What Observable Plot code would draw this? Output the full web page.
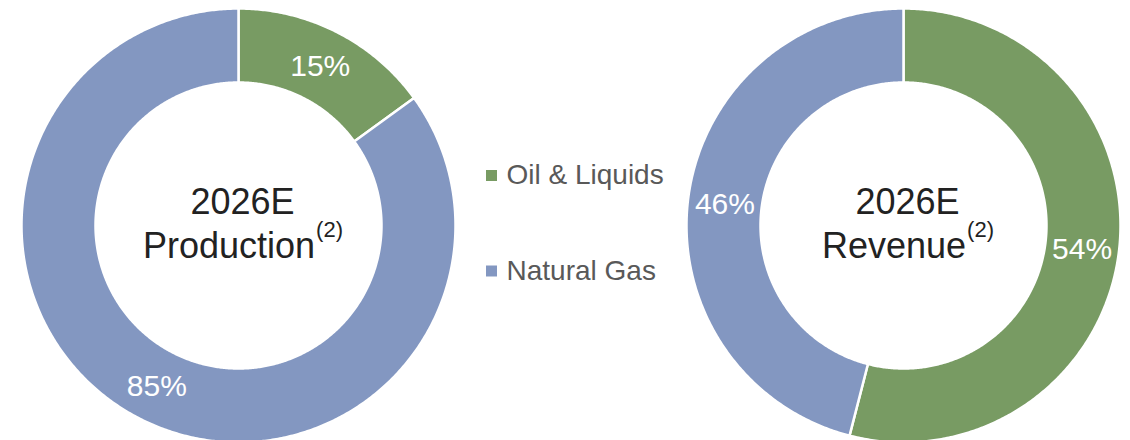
<!DOCTYPE html>
<html>
<head>
<meta charset="utf-8">
<script src="https://cdn.jsdelivr.net/npm/d3@7"></script>
<script src="https://cdn.jsdelivr.net/npm/@observablehq/plot@0.6"></script>
<style>
  html, body { margin: 0; padding: 0; background: #ffffff; }
</style>
</head>
<body>
<div id="chart"></div>
<script>
// ---- data ----
const categories = ["Oil & Liquids", "Natural Gas"];
const colors = ["#789B63", "#8397C1"];
const donutNames = ["Production", "Revenue"];
const productionValues = [15, 85];   // % share, clockwise from 12 o'clock
const revenueValues = [54, 46];
const titleYear = "2026E";
const footnoteMark = "(2)";

// ---- layout ----
const W = 1130, H = 440;
const centersX = [238, 903];
const cy = 225;
const R = 217, r = 143;
const FONT = '"Liberation Sans", Arial, Helvetica, sans-serif';
const valuesByDonut = [productionValues, revenueValues];

// slice polygons built from the values
const slicePts = [];
const pctLabels = [];
valuesByDonut.forEach((vals, d) => {
  const cx = centersX[d];
  const total = d3.sum(vals);
  let cum = 0;
  vals.forEach((v, i) => {
    const a0 = cum / total * 2 * Math.PI;
    const a1 = (cum + v) / total * 2 * Math.PI;
    cum += v;
    const n = Math.max(2, Math.ceil((a1 - a0) / (Math.PI / 360)));
    const key = d + "-" + i;
    for (let k = 0; k <= n; k++) {
      const a = a0 + (a1 - a0) * k / n;
      slicePts.push({key, cat: categories[i], x: cx + R * Math.sin(a), y: cy - R * Math.cos(a)});
    }
    for (let k = n; k >= 0; k--) {
      const a = a0 + (a1 - a0) * k / n;
      slicePts.push({key, cat: categories[i], x: cx + r * Math.sin(a), y: cy - r * Math.cos(a)});
    }
    const mid = (a0 + a1) / 2, rm = (R + r) / 2;
    pctLabels.push({x: cx + rm * Math.sin(mid), y: cy - rm * Math.cos(mid) + 1, text: v + "%"});
  });
});

// centre titles
const ctx = document.createElement("canvas").getContext("2d");
function textWidth(t, size) { ctx.font = size + "px " + FONT; return ctx.measureText(t).width; }
const titleTop = [], titleName = [], titleSup = [];
donutNames.forEach((name, d) => {
  const cx = centersX[d] + 4;
  titleTop.push({x: cx, y: cy - 23.5, text: titleYear});
  const w1 = textWidth(name, 36), w2 = textWidth(footnoteMark, 22);
  const start = cx - (w1 + w2) / 2;
  titleName.push({x: start, y: cy + 20.5, text: name});
  titleSup.push({x: start + w1 + 1, y: cy + 4, text: footnoteMark});
});

// legend
const legend = categories.map((c, i) => ({cat: c, x: 491, tx: 506, y: 175 + i * 95.5}));

const chart = Plot.plot({
  width: W,
  height: H,
  margin: 0,
  x: {domain: [0, W], range: [0, W], axis: null},
  y: {domain: [0, H], range: [0, H], axis: null},
  color: {domain: categories, range: colors},
  style: {fontFamily: FONT, background: "#ffffff", overflow: "visible"},
  marks: [
    Plot.line(slicePts, {x: "x", y: "y", z: "key", fill: "cat", stroke: "#ffffff", strokeWidth: 2.5, curve: "linear-closed"}),
    Plot.text(pctLabels, {x: "x", y: "y", text: "text", fill: "#ffffff", fontSize: 30, fontFamily: FONT}),
    Plot.text(titleTop, {x: "x", y: "y", text: "text", fill: "#222222", fontSize: 36, fontFamily: FONT}),
    Plot.text(titleName, {x: "x", y: "y", text: "text", fill: "#222222", fontSize: 36, textAnchor: "start", fontFamily: FONT}),
    Plot.text(titleSup, {x: "x", y: "y", text: "text", fill: "#222222", fontSize: 22, textAnchor: "start", fontFamily: FONT}),
    Plot.dot(legend, {x: "x", y: "y", fill: "cat", symbol: "square", r: 6.2}),
    Plot.text(legend, {x: "tx", y: "y", text: "cat", fill: "#595959", fontSize: 28, textAnchor: "start", fontFamily: FONT})
  ]
});
document.getElementById("chart").appendChild(chart);
</script>
</body>
</html>
